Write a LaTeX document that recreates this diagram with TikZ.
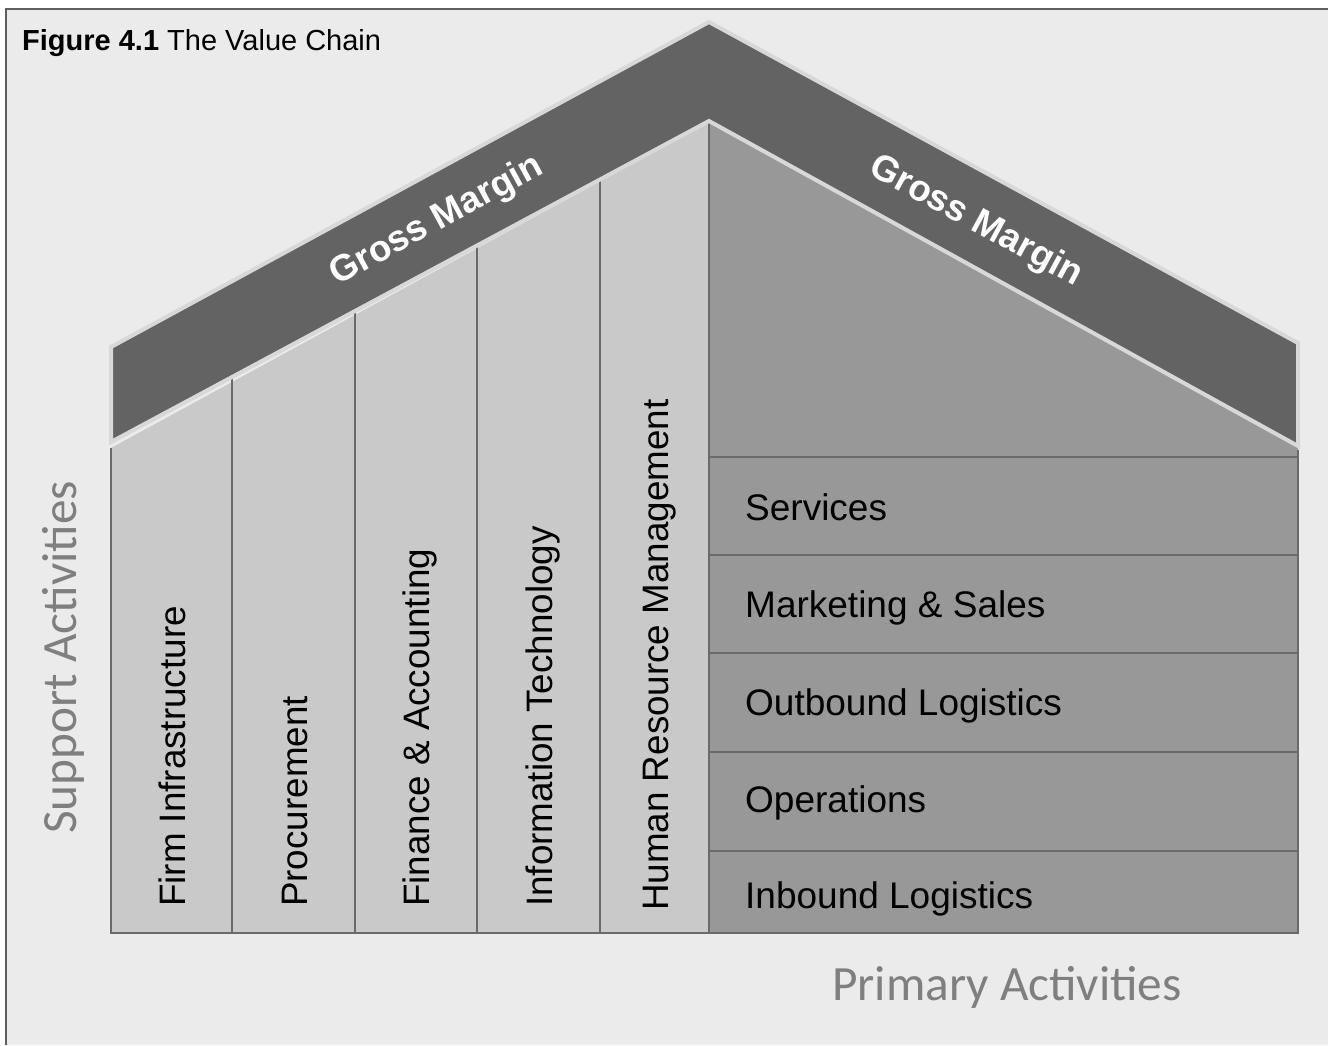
\documentclass[tikz,border=0pt]{standalone}
\usepackage{fontspec}
\setmainfont{Liberation Sans}
\newfontfamily\calibfont{Carlito}
\definecolor{bgc}{HTML}{EBEBEB}
\definecolor{framec}{HTML}{5E5E5E}
\definecolor{roofdark}{HTML}{636363}
\definecolor{roofedge}{HTML}{D8D8D8}
\definecolor{colfill}{HTML}{C9C9C9}
\definecolor{rowfill}{HTML}{989898}
\definecolor{linec}{HTML}{6A6A6A}
\definecolor{labelgray}{HTML}{7F7F7F}
\tikzset{
  darkline/.style={draw=linec, line width=2.6pt},
  gm/.style={text=white, font=\fontsize{36.7}{40}\selectfont\bfseries, inner sep=0pt},
  collabel/.style={rotate=90, anchor=base west, inner sep=0pt, font=\fontsize{36.8}{40}\selectfont},
  rowlabel/.style={anchor=base west, inner sep=0pt, font=\fontsize{37}{40}\selectfont},
  sidelabel/.style={anchor=base west, inner sep=0pt, text=labelgray, font=\calibfont\fontsize{49.3}{52}\selectfont},
}
\begin{document}
\begin{tikzpicture}[x=1pt,y=-1pt]
\useasboundingbox (0,0) rectangle (1328,1045);
\fill[white] (0,0) rectangle (1328,1045);
\fill[bgc] (6,9) rectangle (1328,1045);
\draw[framec, line width=2.5pt] (6,1045) -- (6,9) -- (1328,9);

% bodies
\fill[colfill] (111,448) -- (709,122) -- (709,933) -- (111,933) -- cycle;
\fill[rowfill] (709,122) -- (1298,446) -- (1298,933) -- (709,933) -- cycle;

% dark lines
\draw[darkline] (111,448) -- (111,933) -- (1298,933) -- (1298,450);
\foreach \xx/\yy in {232/377, 355/311, 477/245, 600/180} {
  \draw[darkline] (\xx,\yy) -- (\xx,933);
}
\draw[darkline] (709,121) -- (709,933);
\foreach \yy in {457,555,653,752,851} {
  \draw[darkline] (709,\yy) -- (1298,\yy);
}

% roof band
\filldraw[fill=roofdark, draw=roofedge, line width=4pt, line join=miter]
  (111,347) -- (709,22) -- (1298,343) -- (1298,446) -- (709,121) -- (111,442) -- cycle;

% roof labels
\node[gm, rotate=28.5] (gmL) at (437,221) {Gross Margin};
\node[gm, rotate=-28.5] (gmR) at (976,222) {Gross Margin};

% title
\node[anchor=base west, inner sep=0pt, font=\fontsize{29}{32}\selectfont] (title) at (22,50) {\textbf{Figure 4.1} The Value Chain};

% support activities
\node[collabel] (c1) at (185,907) {Firm Infrastructure};
\node[collabel] (c2) at (307,907) {Procurement};
\node[collabel] (c3) at (429.5,907) {Finance \& Accounting};
\node[collabel] (c4) at (552,907) {Information Technology};
\node[collabel] (c5) at (668,911) {Human Resource Management};

% primary activities
\node[rowlabel] (r1) at (745,520) {Services};
\node[rowlabel] (r2) at (745,617) {Marketing \& Sales};
\node[rowlabel] (r3) at (745,715) {Outbound Logistics};
\node[rowlabel] (r4) at (745,812) {Operations};
\node[rowlabel] (r5) at (745,908) {Inbound Logistics};

% side labels
\node[sidelabel, rotate=90] (sa) at (76,834) {Support Activities};
\node[sidelabel] (pa) at (832,1000) {Primary Activities};
\end{tikzpicture}
\end{document}
